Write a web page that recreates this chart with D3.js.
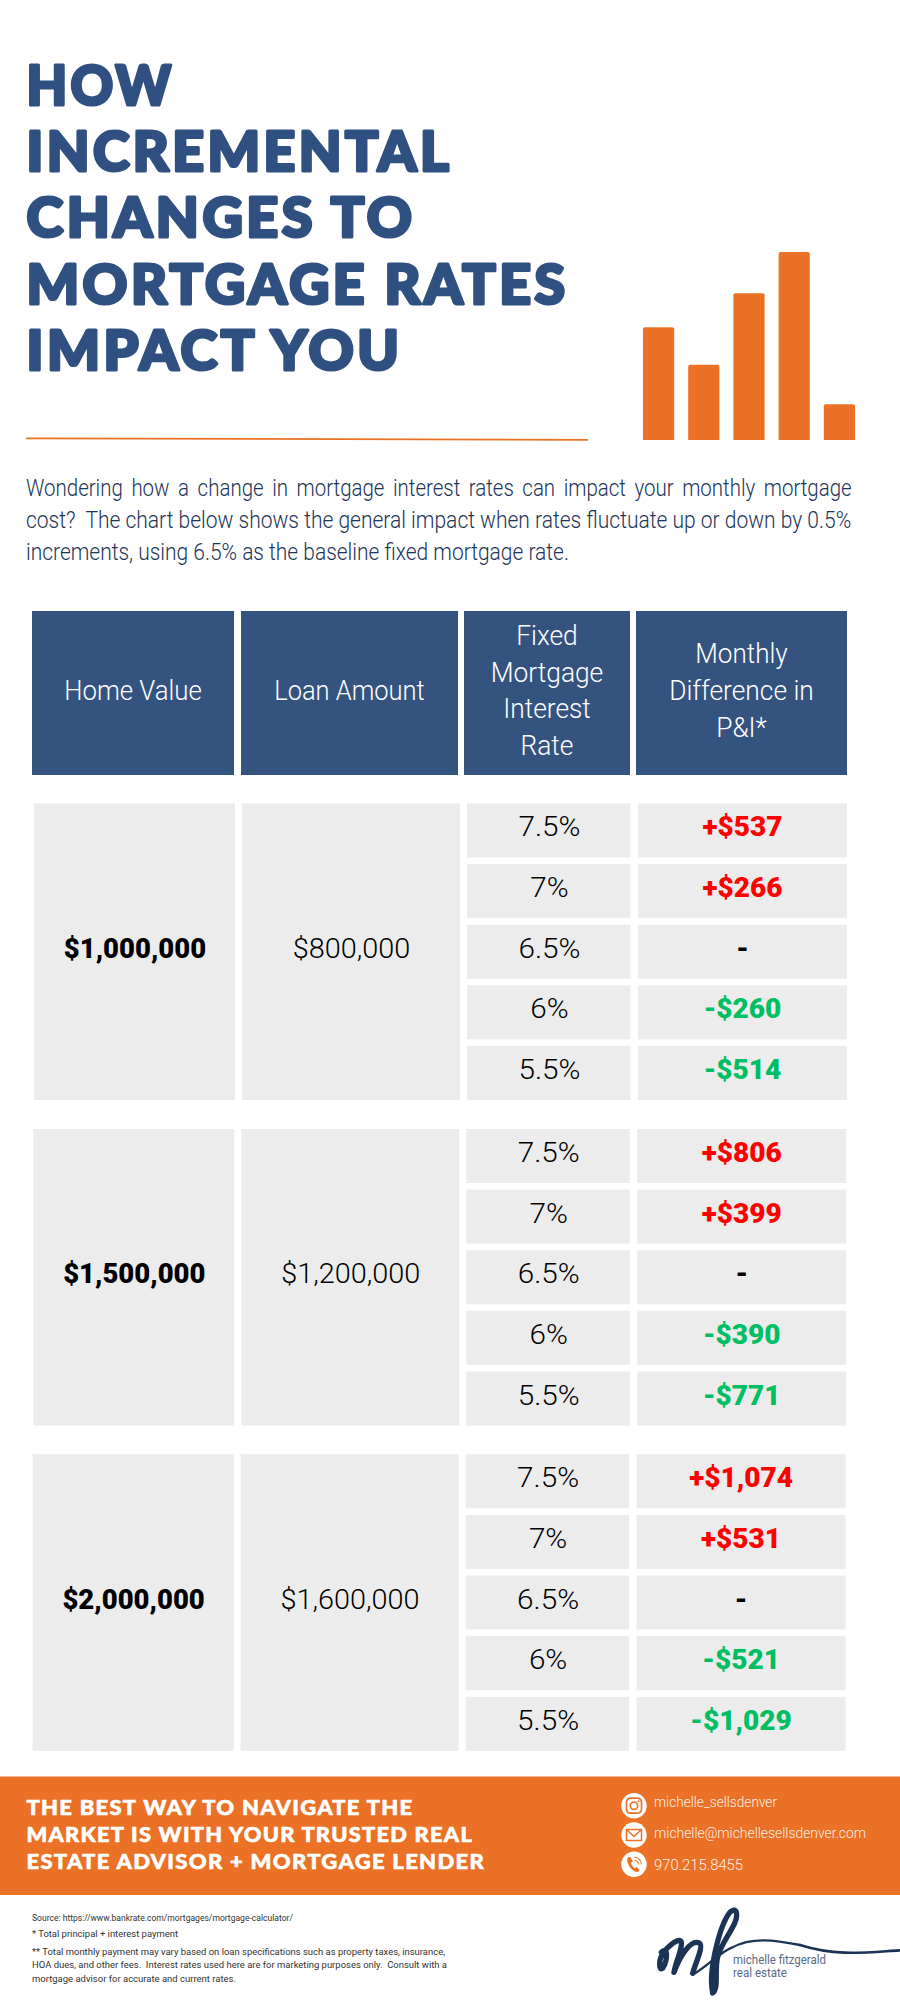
<!DOCTYPE html>
<html><head><meta charset="utf-8">
<script src="https://cdn.jsdelivr.net/npm/d3@7"></script>
<style>html,body{margin:0;padding:0;background:#fff}svg{display:block}</style>
</head><body><svg id="c" width="900" height="2011"></svg>
<script>
// ---- data ----
const titleLines = ["HOW","INCREMENTAL","CHANGES TO","MORTGAGE RATES","IMPACT YOU"];
const introLines = ["Wondering how a change in mortgage interest rates can impact your monthly mortgage",
 "cost?  The chart below shows the general impact when rates fluctuate up or down by 0.5%",
 "increments, using 6.5% as the baseline fixed mortgage rate."];
const iconBars = [60,40,78,100,19];
const homeValues = [1000000,1500000,2000000];
const loanAmounts = [800000,1200000,1600000];
const rates = [7.5,7,6.5,6,5.5];
const diffsA = [537,266,0,-260,-514];
const diffsB = [806,399,0,-390,-771];
const diffsC = [1074,531,0,-521,-1029];
const headers = [["Home Value"],["Loan Amount"],["Fixed","Mortgage","Interest","Rate"],["Monthly","Difference in","P&I*"]];
const bannerLines = ["THE BEST WAY TO NAVIGATE THE","MARKET IS WITH YOUR TRUSTED REAL","ESTATE ADVISOR + MORTGAGE LENDER"];
const contacts = ["michelle_sellsdenver","michelle@michellesellsdenver.com","970.215.8455"];
const notes = ["Source: https://www.bankrate.com/mortgages/mortgage-calculator/","* Total principal + interest payment",
 "** Total monthly payment may vary based on loan specifications such as property taxes, insurance,",
 "HOA dues, and other fees.  Interest rates used here are for marketing purposes only.  Consult with a",
 "mortgage advisor for accurate and current rates."];
const logoLines = ["michelle fitzgerald","real estate"];
const diffs = [diffsA,diffsB,diffsC];

// ---- layout / style ----
const NAVY="#2F5080", HEAD="#34547F", ORANGE="#EA7125", GREY="#ECECEC", RED="#FF0000", GREEN="#00BF63";
const svg=d3.select("#c");
const BODY="Roboto, sans-serif", HEAVY="Lato, sans-serif";
svg.append("rect").attr("width",900).attr("height",2011).attr("fill","#fff");

function fit(sel,w){sel.each(function(d,i){
  const target=typeof w==="function"?w(d,i):w;
  if(target==null)return;
  this.setAttribute("textLength",target);
  this.setAttribute("lengthAdjust","spacingAndGlyphs");
});}
function squeeze(sel,k){sel.each(function(){
  const l=this.getComputedTextLength();
  this.setAttribute("textLength",l*k);
  this.setAttribute("lengthAdjust","spacingAndGlyphs");
});}
// scales a left-anchored text about its own origin, so its painted box is the target width
function scaleTo(sel,x,yOf,w){sel.each(function(d,i){
  const k=w(d,i)/this.getComputedTextLength();
  this.setAttribute("transform",`translate(${x},${yOf(d,i)}) scale(${k},1)`);
});}

// title
const titleY=d3.scalePoint().domain(titleLines).range([104.5,370.1]);
const titleW=[148,426,389,542,376];
svg.append("g").selectAll("text").data(titleLines).join("text")
 .text(d=>d)
 .attr("font-family",HEAVY).attr("font-weight",900).attr("font-size",56).attr("letter-spacing",3.5)
 .attr("fill",NAVY).attr("stroke",NAVY).attr("stroke-width",3.2).attr("stroke-linejoin","round")
 .call(scaleTo,26.5,d=>titleY(d),(d,i)=>titleW[i]);

// rule
svg.append("path").attr("d",d3.line()([[26,438.4],[588,439.8]])).attr("stroke",ORANGE).attr("stroke-width",1.8).attr("fill","none");

// icon bars
const iconX=d3.scaleBand().domain(d3.range(iconBars.length)).range([643,855]).paddingInner(0.31);
const iconY=d3.scaleLinear().domain([0,100]).range([440,252]);
svg.append("g").selectAll("path").data(iconBars).join("path").attr("fill",ORANGE)
 .attr("d",(d,i)=>{const x=iconX(i),w=iconX.bandwidth(),t=iconY(d),b=iconY(0),r=2;
   return `M${x},${b}V${t+r}Q${x},${t} ${x+r},${t}H${x+w-r}Q${x+w},${t} ${x+w},${t+r}V${b}Z`;});

// intro
const introY=d3.scalePoint().domain(introLines).range([496,559.5]);
const introW=[826,826,543];
svg.append("g").selectAll("text").data(introLines).join("text")
 .text(d=>d).attr("xml:space","preserve").style("white-space","pre")
 .attr("font-family",BODY).attr("font-weight",300).attr("font-size",23).attr("fill","#1C3558")
 .attr("word-spacing",(d,i)=>i===0?4:0)
 .call(scaleTo,26,d=>introY(d),(d,i)=>introW[i]);

// header
const headEdges=[[32,234],[241,458],[464,630],[636,847]];
const headK=[[0.92],[0.91],[0.94,0.94,0.94,0.94],[0.93,0.94,0.94]];
const headG=svg.append("g").selectAll("g").data(headers).join("g");
headG.append("rect").attr("x",(d,i)=>headEdges[i][0]).attr("width",(d,i)=>headEdges[i][1]-headEdges[i][0])
 .attr("y",611).attr("height",164).attr("fill",HEAD);
headG.each(function(lines,i){
  const cx=(headEdges[i][0]+headEdges[i][1])/2;
  const yy=d3.scaleLinear().domain([0,1]).range([690-(lines.length-1)*18.4+3.5,690-(lines.length-1)*18.4+40.3]);
  d3.select(this).selectAll("text").data(lines).join("text")
   .attr("x",cx).attr("y",(d,j)=>yy(j)+6.5).attr("text-anchor","middle").text(d=>d)
   .attr("font-family",BODY).attr("font-weight",300).attr("font-size",28).attr("fill","#fff")
   .each(function(d,j){d3.select(this).call(squeeze,headK[i][j]);});
});

// body
const blockTop=d3.scaleOrdinal().domain(homeValues).range([803.5,1129,1454.3]);
const blockDx=d3.scaleOrdinal().domain(homeValues).range([0,-0.7,-1.4]);
const colEdges=[[34,235],[242,460],[467,630.5],[638,847]];
const blockH=296.5;
const money=d3.format("$,");
const diffText=v=>v===0?"-":(v>0?"+":"-")+money(Math.abs(v));
const diffColor=v=>v===0?"#000":(v>0?RED:GREEN);
homeValues.forEach((hv,bi)=>{
  const top=blockTop(hv),dx=blockDx(hv);
  const g=svg.append("g").attr("transform",`translate(${dx},0)`);
  const rowY=d3.scaleBand().domain(rates).range([top,top+blockH]).paddingInner(0.11);
  [0,1].forEach(c=>g.append("rect").attr("x",colEdges[c][0]).attr("width",colEdges[c][1]-colEdges[c][0])
    .attr("y",top).attr("height",blockH).attr("fill",GREY));
  [2,3].forEach(c=>g.append("g").selectAll("rect").data(rates).join("rect")
    .attr("x",colEdges[c][0]).attr("width",colEdges[c][1]-colEdges[c][0])
    .attr("y",d=>rowY(d)).attr("height",rowY.bandwidth()).attr("fill",GREY));
  const cy=top+blockH/2+6;
  g.append("text").attr("x",135).attr("y",cy).attr("text-anchor","middle").text(money(hv))
   .attr("font-family",BODY).attr("font-weight",900).attr("font-size",27.5).attr("fill","#000").call(squeeze,1.0);
  g.append("text").attr("x",351.5).attr("y",cy).attr("text-anchor","middle").text(money(loanAmounts[bi]))
   .attr("font-family",BODY).attr("font-weight",300).attr("font-size",28).attr("fill","#000").call(squeeze,1.03);
  g.append("g").selectAll("text").data(rates).join("text")
   .attr("x",549.5).attr("y",d=>rowY(d)+rowY.bandwidth()/2+6).attr("text-anchor","middle").text(d=>d+"%")
   .attr("font-family",BODY).attr("font-weight",300).attr("font-size",28).attr("fill","#000").call(squeeze,1.06);
  g.append("g").selectAll("text").data(diffs[bi]).join("text")
   .attr("x",742.5).attr("y",(d,i)=>rowY(rates[i])+rowY.bandwidth()/2+6).attr("text-anchor","middle").text(diffText)
   .attr("font-family",BODY).attr("font-weight",900).attr("font-size",27.5).attr("fill",diffColor).call(squeeze,1.02);
});

// banner
svg.append("rect").attr("x",0).attr("y",1776.5).attr("width",900).attr("height",118.5).attr("fill",ORANGE);
const banY=d3.scalePoint().domain(bannerLines).range([1815,1869]);
const banW=[387,447,459];
svg.append("g").selectAll("text").data(bannerLines).join("text")
 .text(d=>d)
 .attr("font-family",HEAVY).attr("font-weight",900).attr("font-size",20.5).attr("letter-spacing",1.2).attr("fill","#fff")
 .attr("stroke","#fff").attr("stroke-width",0.6).attr("stroke-linejoin","round")
 .call(scaleTo,26.5,d=>banY(d),(d,i)=>banW[i]);

// contacts
const conY=d3.scalePoint().domain(contacts).range([1805.7,1864.3]);
const conW=[123,212,89];
const conG=svg.append("g").selectAll("g").data(contacts).join("g").attr("transform",d=>`translate(634,${conY(d)})`);
conG.append("circle").attr("r",12.7).attr("fill","#fff");
conG.append("text").attr("x",20).attr("y",(d,i)=>[1,3,5.5][i]).text(d=>d)
 .attr("font-family",BODY).attr("font-weight",300).attr("font-size",14).attr("fill","#FDEFE6")
 .call(fit,(d,i)=>conW[i]);
const ig=d3.select(conG.nodes()[0]);
ig.append("rect").attr("x",-7.5).attr("y",-7.5).attr("width",15).attr("height",15).attr("rx",4).attr("fill","none").attr("stroke",ORANGE).attr("stroke-width",1.7);
ig.append("circle").attr("r",3.7).attr("fill","none").attr("stroke",ORANGE).attr("stroke-width",1.7);
ig.append("circle").attr("cx",4.4).attr("cy",-4.4).attr("r",1).attr("fill",ORANGE);
d3.select(conG.nodes()[1]).append("path").attr("d","M-7.5,-5.5H7.5V5.5H-7.5ZM-7.5,-5.5L0,1.5L7.5,-5.5").attr("fill","none").attr("stroke",ORANGE).attr("stroke-width",1.5);
const ph=d3.select(conG.nodes()[2]);
ph.append("path").attr("d","M-6.5,-6C-8,-2 -4,5 1.5,7.5C3.5,8.5 5.5,7 5.5,5.5L2.5,2.8L0.8,4C-1,3 -2.5,0.5 -3,-1.5L-1.2,-3L-3.5,-7C-4.5,-7.5 -6,-7 -6.5,-6Z").attr("fill",ORANGE);
ph.append("path").attr("d","M0.5,-4A4.5,4.5 0 0 1 4.5,0M0.5,-7A7.5,7.5 0 0 1 7.5,0").attr("fill","none").attr("stroke",ORANGE).attr("stroke-width",1.1);

// notes
const noteYs=[1921,1937,1955,1968,1982], noteW=[261,146,413,415,204];
svg.append("g").selectAll("text").data(notes).join("text")
 .attr("x",32).attr("y",(d,i)=>noteYs[i]).text(d=>d).attr("xml:space","preserve").style("white-space","pre")
 .attr("font-family",BODY).attr("font-size",9.5).attr("fill","#333").call(fit,(d,i)=>noteW[i]);

// logo
const LOGO="#1B3355";
const lg=svg.append("g").attr("transform","translate(640,1895) scale(0.3333)").attr("fill","none").attr("stroke",LOGO).attr("stroke-linecap","round").attr("stroke-linejoin","round");
lg.append("path").attr("stroke-width",16).attr("d","M64,172C84,150 84,195 68,220C56,230 54,190 74,168C94,145 128,120 124,150C122,175 106,205 102,232C117,190 150,132 178,144C192,152 168,200 158,235");
lg.append("path").attr("stroke-width",16).attr("d","M218,292C204,225 240,92 268,54C290,30 300,60 276,100C258,132 238,160 232,190C224,235 236,280 218,294");
lg.append("path").attr("stroke-width",7).attr("d","M160,238C200,215 240,172 275,158C335,125 405,135 480,150");
lg.append("path").attr("stroke-width",8).attr("d","M480,150C590,185 680,172 778,166");
const logoY=[1964,1977], logoW=[93,54];
svg.append("g").selectAll("text").data(logoLines).join("text").attr("x",733).attr("y",(d,i)=>logoY[i]).text(d=>d)
 .attr("font-family",BODY).attr("font-size",13).attr("fill","#5A6B86").call(fit,(d,i)=>logoW[i]);
</script></body></html>
